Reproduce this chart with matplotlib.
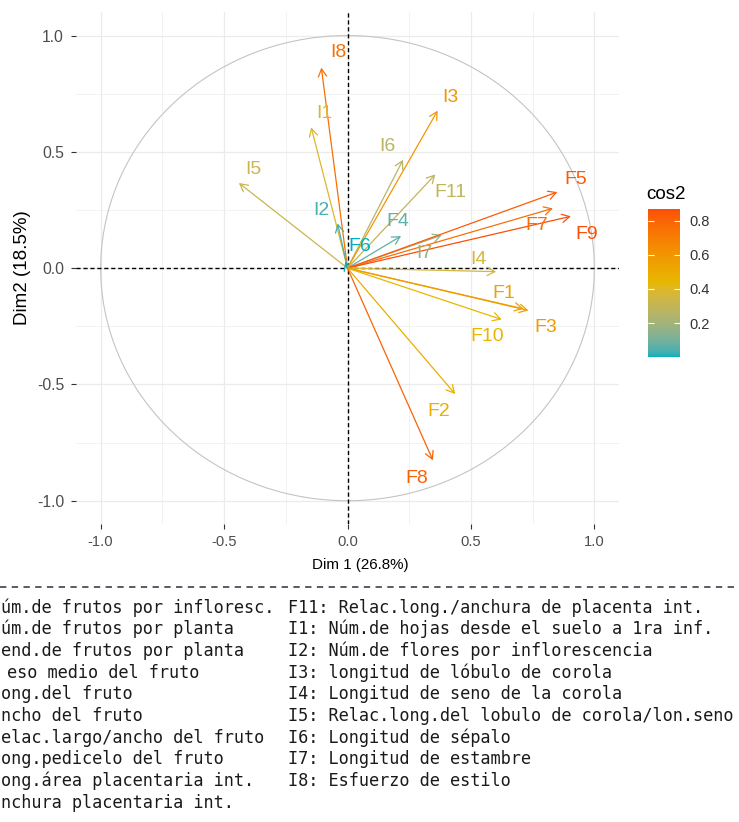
import numpy as np
import matplotlib
matplotlib.use("Agg")
import matplotlib.pyplot as plt
from matplotlib.patches import FancyArrowPatch
from matplotlib.colors import ListedColormap, Normalize, to_rgb
from matplotlib.colorbar import ColorbarBase
from matplotlib.lines import Line2D

plt.rcParams['axes.unicode_minus'] = False

# ---------------- data ----------------
var_names = ["I8", "I1", "I5", "I2", "F6", "I6", "I3", "F11", "F4", "I7",
             "F5", "F7", "F9", "I4", "F1", "F3", "F10", "F2", "F8"]
dim1 = [-0.106, -0.147, -0.440, -0.040, -0.009, 0.225, 0.365, 0.356, 0.217, 0.382,
        0.850, 0.832, 0.905, 0.602, 0.713, 0.733, 0.625, 0.436, 0.346]
dim2 = [0.862, 0.605, 0.366, 0.192, 0.028, 0.466, 0.677, 0.403, 0.138, 0.142,
        0.327, 0.257, 0.223, -0.015, -0.175, -0.182, -0.221, -0.541, -0.826]

axis_ticks = [-1.0, -0.5, 0.0, 0.5, 1.0]
axis_tick_labels = ["-1.0", "-0.5", "0.0", "0.5", "1.0"]
cbar_ticks = [0.2, 0.4, 0.6, 0.8]
cbar_tick_labels = ["0.2", "0.4", "0.6", "0.8"]
gradient_cols = ["#00AFBB", "#E7B800", "#FC4E07"]

xlabel = "Dim 1 (26.8%)"
ylabel = "Dim2 (18.5%)"
legend_title = "cos2"

left_lines = ["úm.de frutos por infloresc.",
              "úm.de frutos por planta",
              "end.de frutos por planta",
              "eso medio del fruto",
              "ong.del fruto",
              "ncho del fruto",
              "elac.largo/ancho del fruto",
              "ong.pedicelo del fruto",
              "ong.área placentaria int.",
              "nchura placentaria int."]
right_lines = ["F11: Relac.long./anchura de placenta int.",
               "I1: Núm.de hojas desde el suelo a 1ra inf.",
               "I2: Núm.de flores por inflorescencia",
               "I3: longitud de lóbulo de corola",
               "I4: Longitud de seno de la corola",
               "I5: Relac.long.del lobulo de corola/lon.seno",
               "I6: Longitud de sépalo",
               "I7: Longitud de estambre",
               "I8: Esfuerzo de estilo"]

# label offsets from arrow tips (layout, in pixels)
label_offsets = {
    "I8": (17, 15), "I1": (13, 14), "I5": (14, 14), "I2": (-16, 13),
    "F6": (14, 15), "I6": (-16, 13), "I3": (13, 13), "F11": (15, -18),
    "F4": (-3, 15), "I7": (-17, -18), "F5": (18, 13), "F7": (-16, -17),
    "F9": (16, -18), "I4": (-18, 12), "F1": (-20, 15), "F3": (17, -17),
    "F10": (-15, -17), "F2": (-16, -18), "F8": (-16, -18),
}


# ---------------- Lab colour ramp (like scales::colour_ramp) ----------------
_M = np.array([[0.4124564, 0.3575761, 0.1804375],
               [0.2126729, 0.7151522, 0.0721750],
               [0.0193339, 0.1191920, 0.9503041]])
_Minv = np.linalg.inv(_M)
_WHITE = np.array([0.95047, 1.0, 1.08883])


def rgb_to_lab(rgb):
    rgb = np.asarray(rgb, float)
    lin = np.where(rgb <= 0.04045, rgb / 12.92, ((rgb + 0.055) / 1.055) ** 2.4)
    xyz = _M @ lin / _WHITE
    d = 6 / 29
    f = np.where(xyz > d ** 3, np.cbrt(xyz), xyz / (3 * d * d) + 4 / 29)
    return np.array([116 * f[1] - 16, 500 * (f[0] - f[1]), 200 * (f[1] - f[2])])


def lab_to_rgb(lab):
    L, a, b = lab
    fy_ = (L + 16) / 116
    fx_ = fy_ + a / 500
    fz_ = fy_ - b / 200
    d = 6 / 29
    f = np.array([fx_, fy_, fz_])
    xyz = np.where(f > d, f ** 3, 3 * d * d * (f - 4 / 29)) * _WHITE
    lin = _Minv @ xyz
    lin = np.clip(lin, 0, 1)
    rgb = np.where(lin <= 0.0031308, 12.92 * lin, 1.055 * lin ** (1 / 2.4) - 0.055)
    return np.clip(rgb, 0, 1)


labs = [rgb_to_lab(to_rgb(c)) for c in gradient_cols]
n_seg = len(labs) - 1
ramp = []
for t in np.linspace(0, 1, 512):
    k = min(int(t * n_seg), n_seg - 1)
    u = t * n_seg - k
    ramp.append(lab_to_rgb(labs[k] * (1 - u) + labs[k + 1] * u))
cmap = ListedColormap(ramp)

# ---------------- figure ----------------
W, H = 739, 822
fig = plt.figure(figsize=(W / 100, H / 100), dpi=100)
fig.patch.set_facecolor("white")


def fx(px):
    return px / W


def fy(py):
    return 1 - py / H


ax_l, ax_r, ax_t, ax_b = 76, 619, 12.3, 524
ax = fig.add_axes([fx(ax_l), fy(ax_b), (ax_r - ax_l) / W, (ax_b - ax_t) / H])
ax.set_xlim(-1.1, 1.1)
ax.set_ylim(-1.1, 1.1)
for s in ax.spines.values():
    s.set_visible(False)

ax.set_xticks(axis_ticks)
ax.set_xticklabels(axis_tick_labels)
ax.set_yticks(axis_ticks)
ax.set_yticklabels(axis_tick_labels)
ax.set_xticks([-0.75, -0.25, 0.25, 0.75], minor=True)
ax.set_yticks([-0.75, -0.25, 0.25, 0.75], minor=True)
ax.tick_params(which="major", direction="out", length=3.8, width=0.8,
               color="#333333", labelcolor="#4D4D4D", pad=4.5)
ax.tick_params(axis="x", which="major", labelsize=10.6, pad=4.2)
ax.tick_params(axis="y", which="major", labelsize=11.3, pad=4.8)
ax.tick_params(which="minor", length=0)
for lab in ax.get_xticklabels() + ax.get_yticklabels():
    lab.set_fontfamily("Liberation Sans")
ax.grid(which="major", color="#EBEBEB", lw=0.9, zorder=0)
ax.grid(which="minor", color="#F0F0F0", lw=0.6, zorder=0)
ax.set_axisbelow(True)

# correlation circle
t = np.linspace(0, 2 * np.pi, 400)
ax.plot(np.cos(t), np.sin(t), color="#C4C4C4", lw=0.8, zorder=1)

# zero lines
ax.axhline(0, color="black", lw=1.0, ls=(0, (3, 2)), zorder=2)
ax.axvline(0, color="black", lw=1.0, ls=(0, (3, 2)), zorder=2)

# colours by cos2
x = np.array(dim1)
y = np.array(dim2)
cos2 = x ** 2 + y ** 2
norm = Normalize(vmin=cos2.min(), vmax=cos2.max())

for name, xi, yi, c2 in zip(var_names, x, y, cos2):
    col = cmap(norm(c2))
    arr = FancyArrowPatch((0, 0), (xi, yi),
                          arrowstyle="->,head_length=0.55,head_width=0.3",
                          mutation_scale=10, color=col, lw=0.9,
                          shrinkA=0, shrinkB=0, zorder=3)
    ax.add_patch(arr)
    dx, dy = label_offsets[name]
    ax.annotate(name, xy=(xi, yi), xytext=(dx, dy), textcoords="offset pixels",
                ha="center", va="center", color=col, fontsize=14,
                family="Liberation Sans", zorder=4)

# axis titles
fig.text(fx(360), fy(565), xlabel, ha="center", va="center",
         fontsize=10.9, family="Liberation Sans", color="black")
fig.text(fx(23), fy(268), ylabel, ha="center", va="center", rotation=90,
         fontsize=13.5, family="Liberation Sans", color="black")

# colorbar
cax = fig.add_axes([fx(648), fy(357), 32 / W, (357 - 209) / H])
cb = ColorbarBase(cax, cmap=cmap, norm=norm, orientation="vertical")
cb.outline.set_visible(False)
cb.set_ticks(cbar_ticks)
cb.set_ticklabels(cbar_tick_labels)
cax.tick_params(direction="in", length=4.2, width=0.8, color="white",
                left=True, right=True, labelleft=False, labelright=True,
                labelsize=10.5, labelcolor="#333333", pad=7)
for lab in cax.get_yticklabels():
    lab.set_fontfamily("Liberation Sans")
fig.text(fx(646), fy(199), legend_title, ha="left", va="baseline",
         fontsize=13.5, family="Liberation Sans", color="black")

# separator dashed line
fig.add_artist(Line2D([0, 1], [fy(586.5), fy(586.5)], transform=fig.transFigure,
                      color="#4A4F5A", lw=1.3, ls=(0, (3.5, 3))))

# legend text below
row0 = 612.5
step = 21.7
for i, line in enumerate(left_lines):
    xpx = 7 if line.startswith("eso") else 1
    fig.text(fx(xpx), fy(row0 + i * step), line, ha="left", va="baseline",
             fontsize=12.2, family="DejaVu Sans Mono", color="#1A1A1A")
for i, line in enumerate(right_lines):
    fig.text(fx(288), fy(row0 + i * step), line, ha="left", va="baseline",
             fontsize=12.2, family="DejaVu Sans Mono", color="#1A1A1A")

fig.savefig("out.png", dpi=100, facecolor="white")
